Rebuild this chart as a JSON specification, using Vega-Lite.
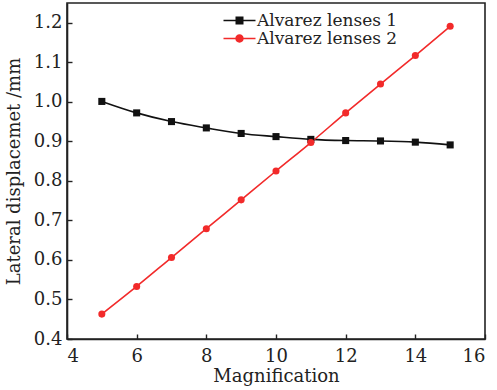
{
  "$schema": "https://vega.github.io/schema/vega-lite/v6.json",
  "width": 418,
  "height": 336,
  "autosize": "none",
  "padding": {"left": 67, "top": 3, "right": 12, "bottom": 51},
  "background": "white",
  "config": {
    "font": "DejaVu Serif",
    "view": {"stroke": "#222", "strokeWidth": 1.6},
    "axis": {
      "domainColor": "#222",
      "domainWidth": 1.6,
      "tickColor": "#222",
      "tickWidth": 1.4,
      "tickSize": -5,
      "grid": false,
      "labelFont": "DejaVu Serif",
      "labelFontSize": 18,
      "labelColor": "#222",
      "titleFont": "DejaVu Serif",
      "titleFontSize": 18,
      "titleFontWeight": "normal",
      "titleColor": "#222"
    }
  },
  "data": {
    "values": [
      {"mag": 5, "value": 1.001, "series": "Alvarez lenses 1"},
      {"mag": 6, "value": 0.972, "series": "Alvarez lenses 1"},
      {"mag": 7, "value": 0.950, "series": "Alvarez lenses 1"},
      {"mag": 8, "value": 0.934, "series": "Alvarez lenses 1"},
      {"mag": 9, "value": 0.920, "series": "Alvarez lenses 1"},
      {"mag": 10, "value": 0.912, "series": "Alvarez lenses 1"},
      {"mag": 11, "value": 0.905, "series": "Alvarez lenses 1"},
      {"mag": 12, "value": 0.902, "series": "Alvarez lenses 1"},
      {"mag": 13, "value": 0.901, "series": "Alvarez lenses 1"},
      {"mag": 14, "value": 0.898, "series": "Alvarez lenses 1"},
      {"mag": 15, "value": 0.891, "series": "Alvarez lenses 1"},
      {"mag": 5, "value": 0.463, "series": "Alvarez lenses 2"},
      {"mag": 6, "value": 0.533, "series": "Alvarez lenses 2"},
      {"mag": 7, "value": 0.606, "series": "Alvarez lenses 2"},
      {"mag": 8, "value": 0.679, "series": "Alvarez lenses 2"},
      {"mag": 9, "value": 0.752, "series": "Alvarez lenses 2"},
      {"mag": 10, "value": 0.825, "series": "Alvarez lenses 2"},
      {"mag": 11, "value": 0.897, "series": "Alvarez lenses 2"},
      {"mag": 12, "value": 0.972, "series": "Alvarez lenses 2"},
      {"mag": 13, "value": 1.045, "series": "Alvarez lenses 2"},
      {"mag": 14, "value": 1.117, "series": "Alvarez lenses 2"},
      {"mag": 15, "value": 1.191, "series": "Alvarez lenses 2"}
    ]
  },
  "encoding": {
    "x": {
      "field": "mag", "type": "quantitative",
      "scale": {"domain": [4, 16], "nice": false},
      "axis": {"values": [4, 6, 8, 10, 12, 14, 16], "title": "Magnification", "labelPadding": 13, "titlePadding": 2}
    },
    "y": {
      "field": "value", "type": "quantitative",
      "scale": {"domain": [0.4, 1.25], "nice": false, "zero": false},
      "axis": {"values": [0.4, 0.5, 0.6, 0.7, 0.8, 0.9, 1.0, 1.1, 1.2], "format": ".1f", "title": "Lateral displacemet /mm", "labelPadding": 10, "titlePadding": 10}
    },
    "color": {
      "field": "series", "type": "nominal",
      "scale": {"domain": ["Alvarez lenses 1", "Alvarez lenses 2"], "range": ["#111111", "#f22a2a"]},
      "legend": {
        "title": null,
        "orient": "none",
        "legendX": 164,
        "legendY": 9,
        "padding": 0,
        "symbolSize": 64,
        "symbolOpacity": 1,
        "symbolStrokeWidth": 0,
        "labelOffset": 9,
        "labelFont": "DejaVu Serif",
        "labelFontSize": 17,
        "labelColor": "#222",
        "rowPadding": 0,
        "labelLimit": 300
      }
    }
  },
  "layer": [
    {
      "mark": {"type": "point", "filled": true, "opacity": 0, "size": 64},
      "encoding": {
        "shape": {
          "field": "series", "type": "nominal",
          "scale": {
            "domain": ["Alvarez lenses 1", "Alvarez lenses 2"],
            "range": [
              "M-4,-0.2H4V0.2H-4Z M-1,-1H1V1H-1Z",
              "M-4,-0.2H4V0.2H-4Z M1.05,0 A1.05,1.05 0 1,1 -1.05,0 A1.05,1.05 0 1,1 1.05,0Z"
            ]
          },
          "legend": {
            "title": null,
            "orient": "none",
            "legendX": 164,
            "legendY": 9,
            "padding": 0,
            "symbolSize": 64,
            "symbolOpacity": 1,
            "symbolStrokeWidth": 0,
            "labelOffset": 9,
            "labelFont": "DejaVu Serif",
            "labelFontSize": 17,
            "labelColor": "#222",
            "rowPadding": 0,
            "labelLimit": 300
          }
        }
      }
    },
    {
      "mark": {"type": "line", "strokeWidth": 1.6, "interpolate": "monotone"}
    },
    {
      "transform": [{"filter": "datum.series === 'Alvarez lenses 1'"}],
      "mark": {"type": "point", "shape": "square", "filled": true, "opacity": 1, "size": 50}
    },
    {
      "transform": [{"filter": "datum.series === 'Alvarez lenses 2'"}],
      "mark": {"type": "point", "shape": "circle", "filled": true, "opacity": 1, "size": 50}
    }
  ]
}
